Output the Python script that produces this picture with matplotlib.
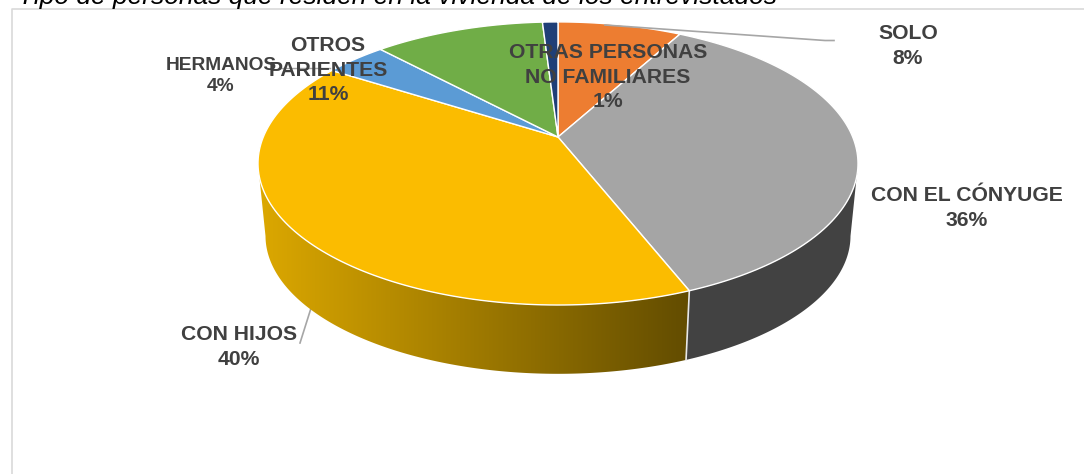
import numpy as np
import matplotlib
matplotlib.use('Agg')
import matplotlib.pyplot as plt
from matplotlib.patches import Polygon

plt.rcParams['font.family'] = ['Liberation Sans', 'DejaVu Sans']

# Data, clockwise from 12 o'clock
categories = ['SOLO', 'CON EL CÓNYUGE', 'CON HIJOS', 'HERMANOS', 'OTROS\nPARIENTES', 'OTRAS PERSONAS\nNO FAMILIARES']
percentages = [8, 36, 40, 4, 11, 1]
slice_colors = ['#ED7D31', '#A5A5A5', '#FBBC00', '#5B9BD5', '#70AD47', '#1F3F77']

title = 'Tipo de personas que residen en la vivienda de los entrevistados'

# Where each label goes, in pixels (centre of the text block)
label_pos = [(908, 46), (967, 208), (239, 347), (221, 76), (328, 70), (608, 77)]
label_sizes = [15.2, 15.2, 15.2, 13.8, 15.2, 15.2]

# Perspective of the pie top, fitted by eye (pixels)
cx, cy = 558, 137
a, b = 294.7, 136.6
k = 0.187
depth, shrink = 73, 0.975


def project(theta_deg, scale=1.0, drop=0.0):
    t = np.radians(theta_deg)
    u, v = np.sin(t), np.cos(t)
    w = 1 + k * v
    return cx + scale * a * u / w, cy + drop - scale * b * v / w


fig = plt.figure(figsize=(10.84, 4.74), dpi=100)
ax = fig.add_axes([0, 0, 1, 1])
ax.set_xlim(0, 1084)
ax.set_ylim(474, 0)
ax.axis('off')

# Chart frame, runs off the picture on the right and at the bottom
ax.plot([11.5, 11.5, 1084], [474, 8.5, 8.5], color='#D9D9D9', lw=1.2, zorder=1)

edges = np.cumsum([0] + percentages) * 3.6

# Side wall, only the front two slices show. Each arc stops at the pie's
# widest point so the wall outline runs straight down from there.
for i, color in [(1, '#424242'), (2, None)]:
    th = np.linspace(edges[i], edges[i + 1], 400)
    xt, yt = project(th)
    xb, yb = project(th, shrink, depth)
    if color:
        keep_t, keep_b = th >= th[np.argmax(xt)], th >= th[np.argmax(xb)]
    else:
        keep_t, keep_b = th <= th[np.argmin(xt)], th <= th[np.argmin(xb)]
    xs = np.r_[xt[keep_t], xb[keep_b][::-1]]
    ys = np.r_[yt[keep_t], yb[keep_b][::-1]]
    wall = Polygon(np.c_[xs, ys], closed=True, facecolor=color if color else 'none',
                   edgecolor='none', zorder=2)
    ax.add_patch(wall)
    if color is None:
        # yellow wall gets darker to the right
        grad = np.linspace(0, 1, 256).reshape(1, -1, 1)
        start = np.array([0xDC, 0xA8, 0x00]) / 255
        end = np.array([0x62, 0x4C, 0x00]) / 255
        img = ax.imshow(start + (end - start) * grad, extent=(258, 691, 380, 100),
                        aspect='auto', zorder=2, interpolation='bilinear')
        img.set_clip_path(wall)
        ax.set_xlim(0, 1084)
        ax.set_ylim(474, 0)

# Seam between the two walls
xs0, ys0 = project(edges[2])
xs1, ys1 = project(edges[2], shrink, depth)
ax.plot([xs0, xs1], [ys0, ys1], color='#E8E8E8', lw=1.2, zorder=3)

# Top face
for i, color in enumerate(slice_colors):
    th = np.linspace(edges[i], edges[i + 1], 120)
    x, y = project(th)
    ax.add_patch(Polygon(np.c_[np.r_[cx, x], np.r_[cy, y]], closed=True, facecolor=color,
                         edgecolor='white', lw=1.0, zorder=4))

# Leader lines
line_color = '#A6A6A6'
ax.plot([605, 825, 834], [25, 40.5, 40.5], color=line_color, lw=1.2, zorder=5)
ax.plot([300, 312], [343, 305], color=line_color, lw=1.2, zorder=1)
ax.plot([278, 330], [68, 68], color=line_color, lw=1.0, zorder=5)

# Data labels
for name, pct, (lx, ly), size in zip(categories, percentages, label_pos, label_sizes):
    ax.text(lx, ly, f'{name}\n{pct}%', ha='center', va='center', fontsize=size,
            fontweight='bold', color='#404040', linespacing=1.36, zorder=6)

# Title is cut by the top of the picture
ax.text(18, 3.5, title, ha='left', va='baseline', fontsize=19, style='italic', color='black', zorder=6)

fig.savefig('out.png', dpi=100)
